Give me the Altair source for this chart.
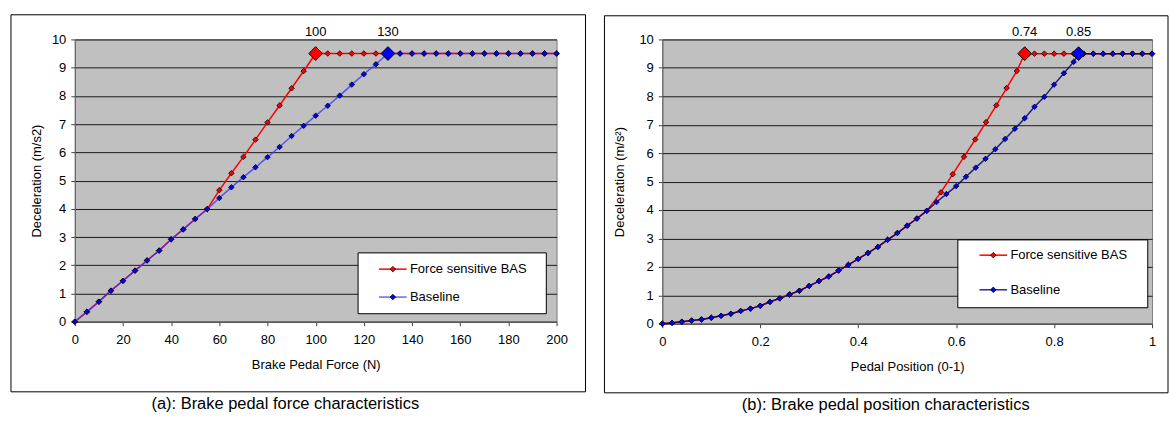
import altair as alt
import pandas as pd

FONT = "Liberation Sans"

# ---------------- Panel (a): brake pedal force ----------------
force_x = [0, 5, 10, 15, 20, 25, 30, 35, 40, 45, 50, 55, 60, 65, 70, 75, 80, 85, 90, 95,
           100, 105, 110, 115, 120, 125, 130, 135, 140, 145, 150, 155, 160, 165, 170, 175,
           180, 185, 190, 195, 200]
force_baseline = [0, 0.35, 0.71, 1.10, 1.45, 1.81, 2.17, 2.52, 2.92, 3.27, 3.64, 3.99,
                  4.38, 4.76, 5.12, 5.47, 5.83, 6.19, 6.58, 6.94, 7.30, 7.65, 8.01, 8.40,
                  8.77, 9.12, 9.5, 9.5, 9.5, 9.5, 9.5, 9.5, 9.5, 9.5, 9.5, 9.5, 9.5, 9.5,
                  9.5, 9.5, 9.5]
force_bas = [0, 0.35, 0.71, 1.10, 1.45, 1.81, 2.17, 2.52, 2.92, 3.27, 3.64, 3.99,
             4.66, 5.26, 5.84, 6.45, 7.06, 7.66, 8.27, 8.88, 9.5, 9.5, 9.5, 9.5, 9.5,
             9.5, 9.5, 9.5, 9.5, 9.5, 9.5, 9.5, 9.5, 9.5, 9.5, 9.5, 9.5, 9.5, 9.5, 9.5, 9.5]
force_sat_x = [100, 130]
force_sat_y = [9.5, 9.5]
force_sat_labels = ["100", "130"]
force_ticks = [0, 20, 40, 60, 80, 100, 120, 140, 160, 180, 200]

# ---------------- Panel (b): brake pedal position ----------------
pos_base_x = [0, 0.02, 0.04, 0.06, 0.08, 0.10, 0.12, 0.14, 0.16, 0.18, 0.20, 0.22, 0.24,
              0.26, 0.28, 0.30, 0.32, 0.34, 0.36, 0.38, 0.40, 0.42, 0.44, 0.46, 0.48, 0.50,
              0.52, 0.54, 0.56, 0.58, 0.60, 0.62, 0.64, 0.66, 0.68, 0.70, 0.72, 0.74, 0.76,
              0.78, 0.80, 0.82, 0.84, 0.85, 0.86, 0.88, 0.90, 0.92, 0.94, 0.96, 0.98, 1.00]
pos_baseline = [0, 0.03, 0.07, 0.11, 0.15, 0.21, 0.28, 0.35, 0.45, 0.53, 0.63, 0.77, 0.89,
                1.03, 1.16, 1.33, 1.50, 1.66, 1.87, 2.07, 2.28, 2.49, 2.70, 2.95, 3.19, 3.45,
                3.70, 3.97, 4.28, 4.56, 4.84, 5.17, 5.49, 5.80, 6.14, 6.50, 6.86, 7.23, 7.63,
                7.98, 8.41, 8.81, 9.21, 9.5, 9.5, 9.5, 9.5, 9.5, 9.5, 9.5, 9.5, 9.5]
pos_bas_x = [0, 0.02, 0.04, 0.06, 0.08, 0.10, 0.12, 0.14, 0.16, 0.18, 0.20, 0.22, 0.24,
             0.26, 0.28, 0.30, 0.32, 0.34, 0.36, 0.38, 0.40, 0.42, 0.44, 0.46, 0.48, 0.50,
             0.52, 0.54, 0.569, 0.593, 0.616, 0.639, 0.661, 0.682, 0.703, 0.724, 0.74, 0.76,
             0.78, 0.80, 0.82, 0.84, 0.86, 0.88, 0.90, 0.92, 0.94, 0.96, 0.98, 1.00]
pos_bas = [0, 0.03, 0.07, 0.11, 0.15, 0.21, 0.28, 0.35, 0.45, 0.53, 0.63, 0.77, 0.89,
           1.03, 1.16, 1.33, 1.50, 1.66, 1.87, 2.07, 2.28, 2.49, 2.70, 2.95, 3.19, 3.45,
           3.70, 3.97, 4.62, 5.26, 5.87, 6.48, 7.09, 7.68, 8.29, 8.89, 9.5, 9.5, 9.5, 9.5,
           9.5, 9.5, 9.5, 9.5, 9.5, 9.5, 9.5, 9.5, 9.5, 9.5]
pos_sat_x = [0.74, 0.85]
pos_sat_y = [9.5, 9.5]
pos_sat_labels = ["0.74", "0.85"]
pos_ticks = [0, 0.2, 0.4, 0.6, 0.8, 1.0]

y_ticks = [0, 1, 2, 3, 4, 5, 6, 7, 8, 9, 10]
series_names = ["Force sensitive BAS", "Baseline"]
series_fill = ["#FF0000", "#0000FF"]
captions = ["(a): Brake pedal force characteristics", "(b): Brake pedal position characteristics"]

one = pd.DataFrame({"k": [0]})


def deco():
    return alt.Chart(one)


def panel(bas_x, bas_y, base_x, base_y, sat_x, sat_y, sat_lab, xmax, xticks, xfmt, xtitle,
          ytitle, W, H, ytitle_x, box, leg, caption, cap_xy, base_line_color, base_line_op):
    bas = pd.DataFrame({"x": bas_x, "y": bas_y})
    base = pd.DataFrame({"x": base_x, "y": base_y})
    sat = pd.DataFrame({"x": sat_x, "y": sat_y, "label": sat_lab, "c": series_fill})

    xs = alt.Scale(domain=[0, xmax], nice=False, zero=False)
    ys = alt.Scale(domain=[0, 10], nice=False)
    X = alt.X("x:Q", scale=xs,
              axis=alt.Axis(values=xticks, format=xfmt, title=xtitle, grid=False,
                            labelOverlap=False, labelFlush=False,
                            titleY=42.5, titleBaseline="middle"))
    Y = alt.Y("y:Q", scale=ys,
              axis=alt.Axis(values=y_ticks, title=ytitle, grid=True,
                            labelOverlap=False, labelFlush=False,
                            titleX=ytitle_x, titleBaseline="middle"))

    layers = []
    bx0, bx1, by0, by1 = box
    layers.append(deco().mark_rect(fillOpacity=0, stroke="#000000", strokeWidth=1).encode(
        x=alt.value(bx0), x2=alt.value(bx1), y=alt.value(by0), y2=alt.value(by1)))

    layers.append(alt.Chart(bas).mark_line(color="#FF0000", strokeWidth=1.5).encode(x=X, y=Y))
    layers.append(alt.Chart(bas).mark_point(shape="diamond", filled=True, fill="#FF0000",
                                            stroke="#000000", strokeWidth=0.8, size=30,
                                            opacity=1).encode(x=X, y=Y))
    layers.append(alt.Chart(base).mark_line(color=base_line_color, strokeWidth=1.5,
                                            opacity=base_line_op).encode(x=X, y=Y))
    layers.append(alt.Chart(base).mark_point(shape="diamond", filled=True, fill="#0000FF",
                                             stroke="#000000", strokeWidth=0.8, size=30,
                                             opacity=1).encode(x=X, y=Y))
    layers.append(alt.Chart(sat).mark_point(shape="diamond", filled=True, size=190,
                                            stroke="#000000", strokeWidth=1, opacity=1).encode(
        x=X, y=Y, fill=alt.Fill("c:N", scale=None)))
    layers.append(alt.Chart(sat).mark_text(dy=-22, font=FONT, fontSize=13, color="#000000").encode(
        x=X, y=Y, text="label:N"))

    # legend
    lx0, lx1, ly0, ly1, rows, sx0, sx1, tx = leg
    layers.append(deco().mark_rect(fill="#FFFFFF", stroke="#000000", strokeWidth=1).encode(
        x=alt.value(lx0), x2=alt.value(lx1), y=alt.value(ly0), y2=alt.value(ly1)))
    line_cols = ["#FF0000", base_line_color]
    line_ops = [1, base_line_op]
    for i in range(2):
        yy = rows[i]
        layers.append(deco().mark_rule(color=line_cols[i], strokeWidth=1.5, opacity=line_ops[i]).encode(
            x=alt.value(sx0), x2=alt.value(sx1), y=alt.value(yy)))
        layers.append(deco().mark_point(shape="diamond", filled=True, fill=series_fill[i],
                                        stroke="#000000", strokeWidth=0.8, size=30,
                                        opacity=1).encode(
            x=alt.value((sx0 + sx1) / 2), y=alt.value(yy)))
        layers.append(deco().mark_text(text=series_names[i], align="left", baseline="middle",
                                       font=FONT, fontSize=13, color="#000000").encode(
            x=alt.value(tx), y=alt.value(yy)))

    layers.append(deco().mark_text(text=caption, align="center", baseline="middle",
                                   font=FONT, fontSize=16.5, color="#000000").encode(
        x=alt.value(cap_xy[0]), y=alt.value(cap_xy[1])))

    return alt.layer(*layers).properties(width=W, height=H)


left = panel(force_x, force_bas, force_x, force_baseline, force_sat_x, force_sat_y,
             force_sat_labels, 200, force_ticks, "d", "Brake Pedal Force (N)",
             "Deceleration (m/s2)", 483, 283, -38,
             (-64, 512, -24.7, 353.3),
             (284, 472.7, 214, 275, [230.3, 258.3], 305, 332.7, 336),
             captions[0], (211, 365.3), "#3333FF", 0.75)

right = panel(pos_bas_x, pos_bas, pos_base_x, pos_baseline, pos_sat_x, pos_sat_y,
              pos_sat_labels, 1, pos_ticks, "~g", "Pedal Position (0-1)",
              "Deceleration (m/s²)", 491, 285, -43,
              (-58, 507, -23.7, 354.3),
              (296.3, 486.7, 201, 269, [216.3, 251], 318, 345.7, 349),
              captions[1], (224, 366.3), "#000080", 0.85)

chart = alt.hconcat(left, right, spacing=17).properties(
    padding={"left": 10, "top": 13, "right": 0, "bottom": 0},
    background="#FFFFFF",
).configure_view(
    fill="#C0C0C0", stroke="#808080", strokeWidth=1
).configure_axis(
    labelFont=FONT, labelFontSize=13, labelColor="#000000",
    titleFont=FONT, titleFontSize=13, titleColor="#000000", titleFontWeight="normal",
    domainColor="#606060", tickColor="#404040", tickSize=4,
    gridColor="#1a1a1a", gridWidth=1, gridOpacity=1,
).configure_axisX(
    labelPadding=8,
).configure_axisY(
    labelPadding=5,
)

chart.save("out.html", embed_options={"renderer": "svg", "actions": False})
